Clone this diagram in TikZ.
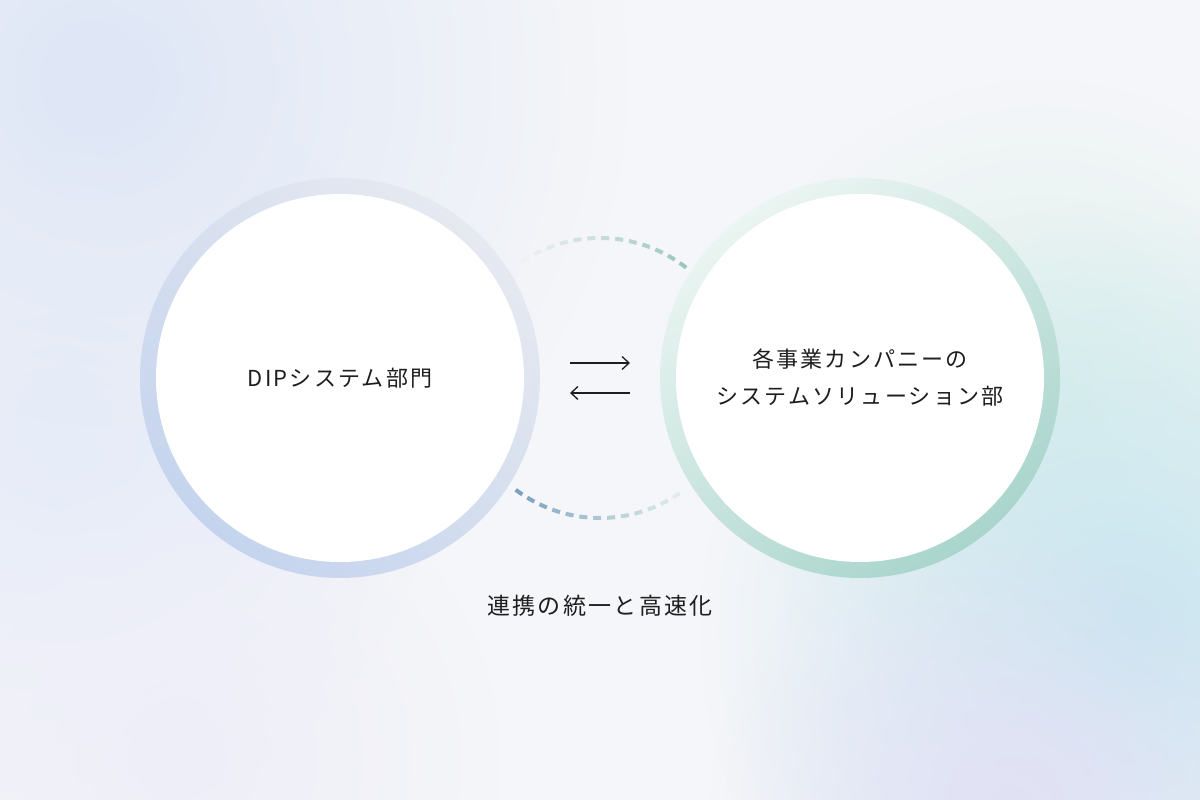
\documentclass[tikz,border=0pt]{standalone}
\usepackage{fontspec}
\newfontfamily\jp[LetterSpace=10]{Noto Sans CJK JP}
\usetikzlibrary{arrows.meta,fadings}
\tikzfading[name=blobfade, inner color=transparent!0, outer color=transparent!100]
\definecolor{bgbase}{HTML}{F5F6F9}
\definecolor{bgTL}{HTML}{DFE7F6}
\definecolor{bgL}{HTML}{E6ECF8}
\definecolor{bgBR}{HTML}{C8E6F0}
\definecolor{bgG}{HTML}{DDF1EB}
\definecolor{bgLav}{HTML}{E2E1F5}
\definecolor{bgBL}{HTML}{EEEEF8}
\definecolor{ringLdark}{HTML}{C5D4EE}
\definecolor{ringLlight}{HTML}{E6E9F0}
\definecolor{ringRdark}{HTML}{A9D5CC}
\definecolor{ringRlight}{HTML}{EBF5F2}
\definecolor{topA}{HTML}{9CC6BB}
\definecolor{topB}{HTML}{EEF2F5}
\definecolor{botA}{HTML}{7BA1BE}
\definecolor{botB}{HTML}{DDEEEA}
\definecolor{ink}{HTML}{1E1E1E}
\tikzset{
  blob/.style={fill=#1, path fading=blobfade},
  disc/.style={circle, fill=white, minimum size=368pt, inner sep=0pt, text=ink, align=center,
    font=\jp\fontsize{22}{37}\selectfont},
  caption/.style={text=ink, inner sep=0pt, font=\jp\fontsize{23}{30}\selectfont},
  arr/.style={draw=ink, line width=1.3pt, -{Straight Barb[length=7pt,width=13pt,line width=1.3pt]}},
  dashseg/.style={line width=4pt, line cap=butt}
}
\begin{document}
\begin{tikzpicture}[x=1pt,y=1pt]
\useasboundingbox (0,0) rectangle (1200,800);
% background
\fill[bgbase] (0,0) rectangle (1200,800);
\begin{scope}
\clip (0,0) rectangle (1200,800);
\fill[blob=bgTL] (110,720) circle (520);
\fill[blob=bgL] (60,360) circle (380);
\fill[blob=bgBL] (180,40) circle (320);
\fill[blob=bgG] (1040,400) circle (320);
\fill[blob=bgBR] (1130,170) circle (430);
\fill[blob=bgLav] (1010,-10) circle (300);
\fill[blob=bgTL] (90,720) circle (120);
\end{scope}
% rings
\shade[top color=ringLlight, bottom color=ringLdark, shading angle=-40] (340,422) circle (200);
\shade[top color=ringRlight, bottom color=ringRdark, shading angle=35] (860,422) circle (200);
% discs
\node[disc] (L) at (340,422) {DIPシステム部門};
\node[disc] (R) at (860,422) {各事業カンパニーの\\システムソリューション部};
% dashed arcs
\coordinate (dc) at (600,422);
\foreach \i in {0,...,12}{
  \pgfmathsetmacro\sa{52+\i*5.7}
  \pgfmathsetmacro\ea{\sa+3.3}
  \pgfmathtruncatemacro\p{100-\i*100/12}
  \draw[dashseg, color=topA!\p!topB] ([shift={(\sa:140)}]dc) arc[start angle=\sa, end angle=\ea, radius=140];
  \pgfmathsetmacro\sb{233+\i*5.7}
  \pgfmathsetmacro\eb{\sb+3.3}
  \draw[dashseg, color=botA!\p!botB] ([shift={(\sb:140)}]dc) arc[start angle=\sb, end angle=\eb, radius=140];
}
% arrows
\coordinate (r1) at (570,437);
\coordinate (r2) at (630,437);
\coordinate (l1) at (630,407);
\coordinate (l2) at (570,407);
\draw[arr] (r1) -- (r2);
\draw[arr] (l1) -- (l2);
% caption
\node[caption] (cap) at (600,194) {連携の統一と高速化};
\end{tikzpicture}
\end{document}
